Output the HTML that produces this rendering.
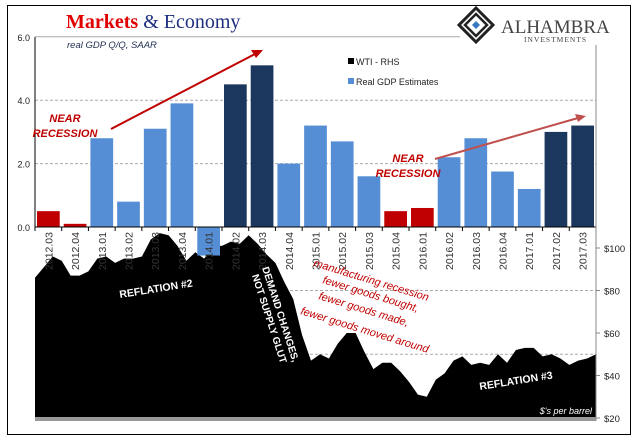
<!DOCTYPE html>
<html><head><meta charset="utf-8">
<style>
html,body{margin:0;padding:0;background:#fff;}
svg{display:block;font-family:"Liberation Sans",sans-serif;}
</style></head>
<body>
<svg id="chart" width="641" height="443" viewBox="0 0 641 443">
<rect x="7.5" y="5.5" width="623" height="429" fill="#fff" stroke="#000" stroke-width="1"/>
<g id="grid"></g>
<g id="oil"></g>
<g id="bars"></g>
<g id="labels"></g>
<g id="axes"></g>
<text x="66" y="28" font-family="Liberation Serif,serif" font-size="20" font-weight="bold" fill="#e00000">Markets <tspan fill="#1f2f80" font-weight="normal">&amp; Economy</tspan></text>
<text x="67" y="48" font-size="9.5" font-style="italic" fill="#1f2f4f">real GDP Q/Q, SAAR</text>
<g>
<polygon points="476,8 493,25 476,42 459,25" fill="#fff" stroke="#222" stroke-width="3"/>
<polygon points="476,14 487,25 476,36 465,25" fill="none" stroke="#222" stroke-width="2.5"/>
<polygon points="476,21 480,25 476,29 472,25" fill="#3a78c0"/>
<text x="501" y="33" font-family="Liberation Serif,serif" font-size="19" fill="#444">ALHAMBRA</text>
<text x="524" y="42" font-family="Liberation Serif,serif" font-size="7.5" fill="#444" letter-spacing="1">INVESTMENTS</text>
</g>
<g>
<rect x="348" y="58" width="6" height="6" fill="#000"/>
<text x="356" y="65" font-size="9" fill="#222">WTI - RHS</text>
<rect x="348" y="78" width="6" height="6" fill="#558ed5"/>
<text x="356" y="85" font-size="9" fill="#222">Real GDP Estimates</text>
</g>
<g font-style="italic" font-weight="bold" font-size="11" fill="#c00000">
<text x="65" y="122" text-anchor="middle">NEAR</text>
<text x="65" y="137" text-anchor="middle">RECESSION</text>
<text x="408" y="162" text-anchor="middle">NEAR</text>
<text x="408" y="177" text-anchor="middle">RECESSION</text>
</g>
<line x1="111" y1="129" x2="255" y2="54" stroke="#c00000" stroke-width="2"/>
<polygon points="263,50 251,50 256,58" fill="#c00000"/>
<line x1="435" y1="159" x2="578" y2="118" stroke="#c0504d" stroke-width="2"/>
<polygon points="586,116 575,114 578,122" fill="#c0504d"/>
<text transform="translate(120,298) rotate(-9)" font-size="10.5" font-weight="bold" fill="#fff">REFLATION #2</text>
<text transform="translate(480,390) rotate(-9)" font-size="10.5" font-weight="bold" fill="#fff">REFLATION #3</text>
<g transform="translate(262,268) rotate(72)" font-size="10" font-weight="bold" fill="#fff">
<text x="0" y="0">DEMAND CHANGES,</text><text x="0" y="12" dx="4">NOT SUPPLY GLUT</text></g>
<g font-size="11" font-style="italic" fill="#c00000">
<text transform="translate(313,266) rotate(17)">manufacturing  recession</text>
<text transform="translate(322,283) rotate(17)">fewer goods  bought,</text>
<text transform="translate(318,299) rotate(17)">fewer goods  made,</text>
<text transform="translate(300,314) rotate(17)">fewer goods  moved around</text>
</g>
<text x="592" y="414" text-anchor="end" font-size="9" font-style="italic" fill="#fff">$'s per barrel</text>
</svg>
<script>
const categories=["2012.03","2012.04","2013.01","2013.02","2013.03","2013.04","2014.01","2014.02","2014.03","2014.04","2015.01","2015.02","2015.03","2015.04","2016.01","2016.02","2016.03","2016.04","2017.01","2017.02","2017.03"];
const gdpValues=[0.5,0.1,2.8,0.8,3.1,3.9,-0.9,4.5,5.1,2.0,3.2,2.7,1.6,0.5,0.6,2.2,2.8,1.75,1.2,3.0,3.2];
const barTypes=["red","red","blue","blue","blue","blue","blue","navy","navy","blue","blue","blue","blue","red","red","blue","blue","blue","blue","navy","navy"];
const gdpTicks=[0,2,4,6];
const oilTicks=[20,40,60,80,100];
const oilPrices=[86,91,96,94,87,87,89,95,96,93,95,95,96,104,107,106,101,94,98,95,101,101,103,102,106,102,97,93,84,76,59,47,50,48,55,60,60,51,43,46,46,42,37,31,30,38,41,47,49,45,46,45,50,46,52,53,53,49,50,48,45,47,48,50];
const colors={red:"#c00000",blue:"#558ed5",navy:"#1c375e"};
const NS="http://www.w3.org/2000/svg";
const X0=35,X1=596,Y0=227,GPX=31.7;
const slot=(X1-X0)/categories.length;
const yG=v=>Y0-v*GPX;
const yO=v=>418-(v-20)*2.125;
function mk(t,a,p){const e=document.createElementNS(NS,t);for(const k in a)e.setAttribute(k,a[k]);p.appendChild(e);return e;}
const grid=document.getElementById('grid'),oil=document.getElementById('oil'),bars=document.getElementById('bars'),labels=document.getElementById('labels'),axes=document.getElementById('axes');
gdpTicks.forEach(t=>{
 if(t>0){const l=mk('line',{x1:X0,x2:t==6?460:X1,y1:yG(t),y2:yG(t),stroke:'#aaa','stroke-dasharray':t==6?'':'3,2'},grid);
 
 }
 const tx=mk('text',{x:30,y:yG(t)+4,'text-anchor':'end','font-size':9,fill:'#222'},axes);tx.textContent=t.toFixed(1);
 
 
});
let d='M'+X0+','+yO(20);
oilPrices.forEach((v,i)=>{const x=X0+i*(X1-X0)/(oilPrices.length-1);d+=' L'+x.toFixed(1)+','+yO(v).toFixed(1);});
d+=' L'+X1+','+yO(20)+' Z';
const area=mk('path',{d:d,fill:'#000'},oil);


const base=mk('rect',{x:X0,y:417,width:X1-X0,height:4,fill:'#999'},oil);


[80,50].forEach(v=>{const l=mk('line',{x1:230,x2:X1,y1:yO(v),y2:yO(v),stroke:'#aaa','stroke-dasharray':'3,2'},grid);
 
 });
gdpValues.forEach((v,i)=>{
 const x=X0+i*slot+2,w=slot-4;
 const r=mk('rect',{x:x,y:Math.min(yG(v),Y0),width:w,height:Math.abs(yG(v)-Y0),fill:colors[barTypes[i]]},bars);
 
 
 const cx=X0+(i+0.5)*slot+4;
 const t=mk('text',{transform:'translate('+cx+',232) rotate(-90)','text-anchor':'end','font-size':10.5,fill:'#333'},labels);
 t.textContent=categories[i];
 
 
 mk('line',{x1:X0+i*slot,x2:X0+i*slot,y1:Y0,y2:Y0+4,stroke:'#000'},axes);
});
const xa=mk('line',{x1:X0,x2:X1,y1:Y0,y2:Y0,stroke:'#000'},axes);


const ya=mk('line',{x1:X0,x2:X0,y1:37,y2:Y0,stroke:'#000'},axes);


const ra=mk('line',{x1:X1,x2:X1,y1:45,y2:421,stroke:'#888'},axes);


oilTicks.forEach(t=>{
 mk('line',{x1:X1,x2:X1+4,y1:yO(t),y2:yO(t),stroke:'#888'},axes);
 const tx=mk('text',{x:604,y:yO(t)+4,'font-size':9.5,fill:'#222'},axes);tx.textContent='$'+t;
 
 
});
</script>
</body></html>
